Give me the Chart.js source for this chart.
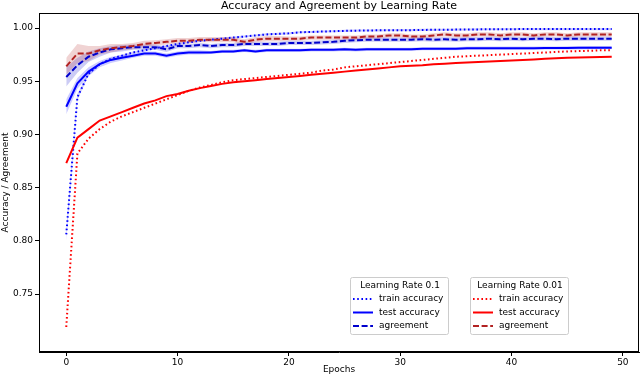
<!DOCTYPE html>
<html>
<head>
<meta charset="utf-8">
<script src="https://cdn.jsdelivr.net/npm/chart.js@4.4.1/dist/chart.umd.min.js"></script>
<style>
  html, body { margin: 0; padding: 0; background: #fff; }
  #wrap { width: 640px; height: 375px; }
</style>
</head>
<body>
<div id="wrap"><canvas id="accChart" width="640" height="375"></canvas></div>
<script>
// epochs 0..49
var epochs = Array.from({ length: 50 }, function (_, i) { return i; });

// learning rate 0.1
var blueTrain = [0.806, 0.935, 0.957, 0.966, 0.971, 0.974, 0.977, 0.979, 0.981, 0.983,
                 0.985, 0.9866, 0.988, 0.989, 0.990, 0.991, 0.992, 0.993, 0.994, 0.9945,
                 0.995, 0.996, 0.9963, 0.9967, 0.997, 0.9973, 0.9975, 0.9977, 0.9978, 0.9979,
                 0.998, 0.998, 0.9982, 0.9983, 0.9984, 0.9985, 0.9986, 0.9987, 0.9988, 0.9988,
                 0.9989, 0.999, 0.999, 0.999, 0.999, 0.999, 0.999, 0.999, 0.999, 0.999];
var blueTest = [0.926, 0.948, 0.959, 0.966, 0.970, 0.972, 0.974, 0.976, 0.976, 0.974,
                0.976, 0.977, 0.977, 0.977, 0.978, 0.978, 0.979, 0.978, 0.979, 0.979,
                0.979, 0.979, 0.9795, 0.9795, 0.9795, 0.98, 0.9795, 0.98, 0.98, 0.98,
                0.98, 0.98, 0.9805, 0.9805, 0.9805, 0.9805, 0.981, 0.981, 0.981, 0.981,
                0.981, 0.981, 0.981, 0.9812, 0.9812, 0.9813, 0.9814, 0.9815, 0.9815, 0.9815];
var blueAgree = [0.954, 0.965, 0.973, 0.977, 0.980, 0.981, 0.982, 0.982, 0.982, 0.980,
                 0.983, 0.983, 0.984, 0.983, 0.984, 0.984, 0.985, 0.985, 0.985, 0.985,
                 0.986, 0.986, 0.986, 0.9865, 0.987, 0.988, 0.9885, 0.989, 0.989, 0.989,
                 0.989, 0.989, 0.9895, 0.989, 0.9895, 0.989, 0.9895, 0.9895, 0.99, 0.9895,
                 0.99, 0.9895, 0.99, 0.99, 0.9895, 0.99, 0.99, 0.99, 0.99, 0.99];

// learning rate 0.01
var redTrain = [0.719, 0.882, 0.896, 0.905, 0.912, 0.917, 0.921, 0.925, 0.929, 0.933,
                0.937, 0.941, 0.944, 0.9465, 0.949, 0.951, 0.952, 0.953, 0.954, 0.955,
                0.956, 0.957, 0.958, 0.960, 0.961, 0.963, 0.964, 0.965, 0.966, 0.967,
                0.968, 0.969, 0.970, 0.971, 0.972, 0.973, 0.9735, 0.974, 0.9745, 0.975,
                0.9755, 0.976, 0.9765, 0.977, 0.9775, 0.978, 0.9783, 0.9786, 0.979, 0.979];
var redTest = [0.873, 0.897, 0.905, 0.913, 0.917, 0.921, 0.925, 0.929, 0.932, 0.936,
               0.938, 0.941, 0.9435, 0.9455, 0.9475, 0.949, 0.950, 0.951, 0.952, 0.953,
               0.954, 0.955, 0.956, 0.957, 0.958, 0.959, 0.960, 0.961, 0.962, 0.963,
               0.964, 0.9645, 0.965, 0.966, 0.9665, 0.967, 0.9675, 0.968, 0.9685, 0.969,
               0.9695, 0.970, 0.9705, 0.971, 0.9715, 0.972, 0.9722, 0.9725, 0.9728, 0.973];
var redAgree = [0.964, 0.976, 0.976, 0.979, 0.981, 0.982, 0.983, 0.985, 0.986, 0.987,
                0.988, 0.988, 0.989, 0.989, 0.989, 0.989, 0.987, 0.989, 0.990, 0.990,
                0.990, 0.990, 0.991, 0.991, 0.991, 0.991, 0.991, 0.992, 0.992, 0.993,
                0.993, 0.992, 0.992, 0.993, 0.994, 0.993, 0.993, 0.994, 0.994, 0.993,
                0.994, 0.994, 0.993, 0.994, 0.994, 0.993, 0.994, 0.994, 0.994, 0.994];

// spread (std) around the means
var blueTrainStd = [0.006, 0.003, 0.0015, 0.001, 0.001, 0.001, 0.001, 0.001, 0.001, 0.001,
                    0.001, 0.001, 0.001, 0.001, 0.001, 0.001, 0.001, 0.001, 0.001, 0.001,
                    0.001, 0.001, 0.001, 0.001, 0.001, 0.001, 0.001, 0.001, 0.001, 0.001,
                    0.001, 0.001, 0.001, 0.001, 0.001, 0.001, 0.001, 0.001, 0.001, 0.001,
                    0.001, 0.001, 0.001, 0.001, 0.001, 0.001, 0.001, 0.001, 0.001, 0.001];
var blueTestStd = [0.007, 0.005, 0.004, 0.003, 0.003, 0.0025, 0.002, 0.002, 0.002, 0.002,
                   0.002, 0.002, 0.002, 0.0015, 0.0015, 0.0015, 0.0015, 0.0015, 0.0015, 0.0015,
                   0.0015, 0.0015, 0.0015, 0.0015, 0.0015, 0.0015, 0.0015, 0.0015, 0.0015, 0.0015,
                   0.0015, 0.0015, 0.0015, 0.0015, 0.0015, 0.0015, 0.0015, 0.0015, 0.0015, 0.0015,
                   0.0015, 0.0015, 0.0015, 0.0015, 0.0015, 0.0015, 0.0015, 0.0015, 0.0015, 0.0015];
var blueAgreeStd = [0.009, 0.007, 0.005, 0.004, 0.003, 0.003, 0.0025, 0.0025, 0.0025, 0.0025,
                    0.002, 0.002, 0.002, 0.002, 0.002, 0.002, 0.002, 0.002, 0.002, 0.002,
                    0.002, 0.002, 0.002, 0.002, 0.002, 0.002, 0.002, 0.002, 0.002, 0.002,
                    0.002, 0.002, 0.002, 0.002, 0.002, 0.002, 0.002, 0.002, 0.002, 0.002,
                    0.002, 0.002, 0.002, 0.002, 0.002, 0.002, 0.002, 0.002, 0.002, 0.002];
var redAgreeStd = [0.008, 0.009, 0.007, 0.004, 0.004, 0.003, 0.003, 0.003, 0.0025, 0.0025,
                   0.0025, 0.0025, 0.0025, 0.0025, 0.0025, 0.0025, 0.0025, 0.0025, 0.0025, 0.0025,
                   0.002, 0.002, 0.002, 0.002, 0.002, 0.002, 0.002, 0.002, 0.002, 0.002,
                   0.002, 0.002, 0.002, 0.002, 0.002, 0.002, 0.002, 0.002, 0.002, 0.002,
                   0.002, 0.002, 0.002, 0.002, 0.002, 0.002, 0.002, 0.002, 0.002, 0.002];

var xTicks = [0, 10, 20, 30, 40, 50];
var yTicks = [0.75, 0.80, 0.85, 0.90, 0.95, 1.00];

var FONT = 'DejaVu Sans';

function pts(vals) {
    return vals.map(function (v, i) { return { x: epochs[i], y: v }; });
}
function shift(vals, sd, sign) {
    return vals.map(function (v, i) { return { x: epochs[i], y: v + sign * sd[i] }; });
}

// a line dataset
function line(label, vals, color, dash, order) {
    return {
        label: label,
        data: pts(vals),
        borderColor: color,
        borderWidth: 2,
        borderDash: dash,
        borderCapStyle: 'butt',
        pointRadius: 0,
        fill: false,
        tension: 0,
        order: order
    };
}

// shaded band = upper edge + lower edge filled to previous dataset
function band(vals, sd, color, order) {
    return [{
        label: '_up',
        data: shift(vals, sd, 1),
        borderWidth: 0,
        borderColor: 'transparent',
        pointRadius: 0,
        fill: false,
        order: order
    }, {
        label: '_lo',
        data: shift(vals, sd, -1),
        borderWidth: 0,
        borderColor: 'transparent',
        backgroundColor: color,
        pointRadius: 0,
        fill: '-1',
        order: order
    }];
}

var dotted = [1.6, 2.6];
var dashed = [6, 2.6];

var datasets = [].concat(
    band(blueTrain, blueTrainStd, 'rgba(0,0,255,0.2)', 20),
    band(blueTest, blueTestStd, 'rgba(0,0,255,0.2)', 20),
    band(blueAgree, blueAgreeStd, 'rgba(0,0,205,0.2)', 20),
    band(redAgree, redAgreeStd, 'rgba(178,34,34,0.2)', 10),
    [
        line('train accuracy', blueTrain, '#0000ff', dotted, 6),
        line('test accuracy', blueTest, '#0000ff', [], 5),
        line('agreement', blueAgree, '#0000cd', dashed, 4),
        line('train accuracy', redTrain, '#ff0000', dotted, 3),
        line('test accuracy', redTest, '#ff0000', [], 2),
        line('agreement', redAgree, '#b22222', dashed, 1)
    ]
);

// title, frame and the two legend boxes
var decor = {
    id: 'decor',
    afterDraw: function (chart) {
        var ctx = chart.ctx, a = chart.chartArea;
        ctx.save();
        ctx.fillStyle = '#000';
        ctx.font = '11px "' + FONT + '"';
        ctx.textAlign = 'center';
        ctx.textBaseline = 'middle';
        ctx.fillText('Accuracy and Agreement by Learning Rate', (a.left + a.right) / 2, 6);

        ctx.strokeStyle = '#000';
        ctx.lineWidth = 1;
        ctx.strokeRect(a.left + 0.5, a.top + 0.5, a.right - a.left - 1, a.bottom - a.top - 1);

        var boxes = [
            { x: 350, title: 'Learning Rate 0.1', items: [['train accuracy', '#0000ff', dotted], ['test accuracy', '#0000ff', []], ['agreement', '#0000cd', dashed]] },
            { x: 470, title: 'Learning Rate 0.01', items: [['train accuracy', '#ff0000', dotted], ['test accuracy', '#ff0000', []], ['agreement', '#b22222', dashed]] }
        ];
        boxes.forEach(function (b) {
            var y = 277, w = 98, h = 57;
            ctx.beginPath();
            ctx.roundRect(b.x + 0.5, y + 0.5, w, h, 2);
            ctx.fillStyle = 'rgba(255,255,255,0.8)';
            ctx.fill();
            ctx.strokeStyle = '#cccccc';
            ctx.lineWidth = 1;
            ctx.setLineDash([]);
            ctx.stroke();

            ctx.fillStyle = '#000';
            ctx.font = '9px "' + FONT + '"';
            ctx.textAlign = 'center';
            ctx.fillText(b.title, b.x + w / 2 + 1, y + 9);
            ctx.textAlign = 'left';
            b.items.forEach(function (it, k) {
                var ly = y + 22 + k * 13.5;
                ctx.beginPath();
                ctx.strokeStyle = it[1];
                ctx.lineWidth = 2;
                ctx.setLineDash(it[2]);
                ctx.moveTo(b.x + 3, ly);
                ctx.lineTo(b.x + 23, ly);
                ctx.stroke();
                ctx.setLineDash([]);
                ctx.fillStyle = '#000';
                ctx.fillText(it[0], b.x + 29, ly);
            });
        });
        ctx.restore();
    }
};

var accChart = new Chart(document.getElementById('accChart'), {
    type: 'line',
    data: { datasets: datasets },
    plugins: [decor],
    options: {
        responsive: false,
        animation: false,
        layout: { padding: { top: 13, right: 1, left: 0, bottom: 0 } },
        plugins: {
            legend: { display: false },
            title: { display: false },
            tooltip: { enabled: false }
        },
        scales: {
            x: {
                type: 'linear',
                min: -2.45,
                max: 51.45,
                afterBuildTicks: function (s) { s.ticks = xTicks.map(function (v) { return { value: v }; }); },
                afterFit: function (s) { s.height = 23; },
                grid: { display: true, drawOnChartArea: false, drawTicks: true, tickLength: 4, color: '#000', tickWidth: 1 },
                border: { display: true, color: '#000', width: 1 },
                ticks: { color: '#000', font: { family: FONT, size: 9 }, padding: 1, maxRotation: 0 },
                title: { display: true, text: 'Epochs', color: '#000', font: { family: FONT, size: 9 }, padding: { top: 0, bottom: 0 } }
            },
            y: {
                min: 0.6955,
                max: 1.0141,
                afterBuildTicks: function (s) { s.ticks = yTicks.map(function (v) { return { value: v }; }); },
                afterFit: function (s) { s.width = 39; },
                grid: { display: true, drawOnChartArea: false, drawTicks: true, tickLength: 4, color: '#000', tickWidth: 1 },
                border: { display: true, color: '#000', width: 1 },
                ticks: {
                    color: '#000', font: { family: FONT, size: 9 }, padding: 2,
                    callback: function (v) { return v.toFixed(2); }
                },
                title: { display: true, text: 'Accuracy / Agreement', color: '#000', font: { family: FONT, size: 9 }, padding: { top: 0, bottom: 0 } }
            }
        }
    }
});
</script>
</body>
</html>
